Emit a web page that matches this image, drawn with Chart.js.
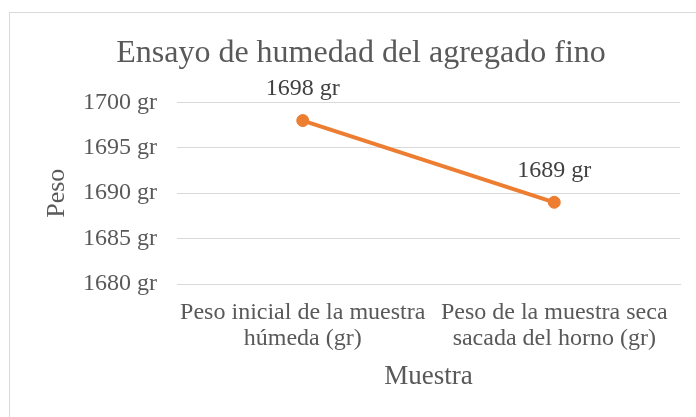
<!DOCTYPE html>
<html>
<head>
<meta charset="utf-8">
<script src="https://cdn.jsdelivr.net/npm/chart.js@4"></script>
<style>
  html, body { margin: 0; padding: 0; background: #fff; overflow: hidden; }
  #frame { position: absolute; left: 9px; top: 12px; width: 720px; height: 440px; border: 1px solid #d9d9d9; }
  #wrap { position: absolute; left: 0; top: 0; width: 696px; height: 417px; }
</style>
</head>
<body>
<div id="frame"></div>
<div id="wrap"><canvas id="chart" width="696" height="417"></canvas></div>
<script>
// Ensayo de humedad - datos
const categories = [
    ['Peso inicial de la muestra', 'húmeda (gr)'],
    ['Peso de la muestra seca', 'sacada del horno (gr)']
];
const pesos = [1698, 1689];
const yTicks = [1680, 1685, 1690, 1695, 1700];

const SERIF = 'Liberation Serif';
const GREY = '#595959';

Chart.defaults.font.family = SERIF;
Chart.defaults.color = GREY;

// etiquetas de datos encima de cada punto
const dataLabels = {
    id: 'dataLabels',
    afterDatasetsDraw(chart) {
        const ctx = chart.ctx;
        const meta = chart.getDatasetMeta(0);
        ctx.save();
        ctx.font = '24px "Liberation Serif"';
        ctx.fillStyle = '#404040';
        ctx.textAlign = 'center';
        ctx.textBaseline = 'middle';
        meta.data.forEach((pt, i) => {
            ctx.fillText(pesos[i] + ' gr', pt.x, pt.y - 32);
        });
        ctx.restore();
    }
};

new Chart(document.getElementById('chart'), {
    type: 'line',
    data: {
        labels: categories,
        datasets: [{
            label: 'Peso',
            data: pesos,
            borderColor: '#ED7D31',
            backgroundColor: '#ED7D31',
            borderWidth: 4,
            pointRadius: 6,
            pointBorderWidth: 1,
            pointHoverRadius: 6,
            tension: 0
        }]
    },
    options: {
        responsive: false,
        animation: false,
        layout: { padding: { left: 42, right: 16, top: 0, bottom: 0 } },
        plugins: {
            legend: { display: false },
            tooltip: { enabled: false },
            title: {
                display: true,
                text: 'Ensayo de humedad del agregado fino',
                color: GREY,
                font: { family: SERIF, size: 32, weight: 'normal' },
                padding: { top: 34, bottom: 30 }
            }
        },
        scales: {
            y: {
                min: 1680,
                max: 1700,
                afterBuildTicks(scale) {
                    scale.ticks = yTicks.map(v => ({ value: v }));
                },
                afterFit(scale) { scale.width = 135; },
                ticks: {
                    color: GREY,
                    padding: 20,
                    font: { family: SERIF, size: 24 },
                    callback: v => v + ' gr'
                },
                grid: { color: '#d9d9d9', drawTicks: false },
                border: { display: false },
                title: {
                    display: true,
                    text: 'Peso',
                    color: GREY,
                    font: { family: SERIF, size: 26 },
                    padding: 0
                }
            },
            x: {
                offset: true,
                afterFit(scale) { scale.height = 133; },
                ticks: {
                    color: GREY,
                    padding: 16,
                    maxRotation: 0,
                    autoSkip: false,
                    font: { family: SERIF, size: 24, lineHeight: 1.08 }
                },
                grid: { display: false, drawTicks: false },
                border: { display: true, color: '#d9d9d9' },
                title: {
                    display: true,
                    text: 'Muestra',
                    color: GREY,
                    font: { family: SERIF, size: 27 },
                    padding: { top: 4, bottom: 24 }
                }
            }
        }
    },
    plugins: [dataLabels]
});
</script>
</body>
</html>
